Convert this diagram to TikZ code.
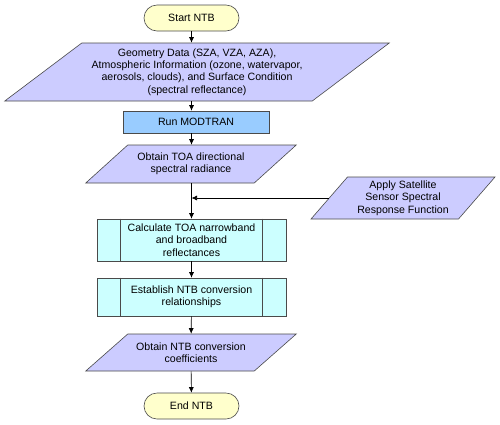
\documentclass[tikz,border=0pt]{standalone}
\usepackage{fontspec}
\setmainfont{Liberation Sans}
\usepackage{tikz}
\usetikzlibrary{arrows.meta, calc}
\definecolor{termc}{HTML}{FFFFCC}
\definecolor{ioc}{HTML}{CCCCFF}
\definecolor{runc}{HTML}{99CCFF}
\definecolor{procc}{HTML}{CCFFFF}
\definecolor{edgec}{HTML}{4A4A4A}
% #1 name, #2 centre, #3 edge length, #4 height, #5 slant, #6 text
\newcommand{\iobox}[6]{%
  \filldraw[fill=ioc, draw=edgec, line width=0.6pt]
    ($#2+(-#3/2+#5/2,-#4/2)$) -- ($#2+(#3/2+#5/2,-#4/2)$)
    -- ($#2+(#3/2-#5/2,#4/2)$) -- ($#2+(-#3/2-#5/2,#4/2)$) -- cycle;
  \node[minimum width=#3, minimum height=#4, inner sep=0pt,
        align=center] (#1) at #2 {#6};
}
% #1 name, #2 centre, #3 width, #4 height, #5 text
\newcommand{\procbox}[5]{%
  \node[draw=edgec, fill=procc, line width=0.6pt, minimum width=#3,
        minimum height=#4, inner sep=0pt, align=center] (#1) at #2 {#5};
  \draw[edgec, line width=0.6pt]
    ($(#1.north west)+(24,0)$) -- ($(#1.south west)+(24,0)$)
    ($(#1.north east)+(-24,0)$) -- ($(#1.south east)+(-24,0)$);
}

\begin{document}
\begin{tikzpicture}[x=1pt, y=-1pt, >={Latex[length=5.5pt,width=5pt]},
          line width=0.6pt, font=\fontsize{10.6}{12.3}\selectfont,
          term/.style={draw=edgec, fill=termc, rounded corners=13pt,
                       minimum width=95, minimum height=26, inner sep=0pt}]
        \useasboundingbox (0,0) rectangle (500,424);
        \node[term] (start) at (191.5,18) {Start NTB};
        \iobox{geo}{(197,72)}{307.5}{58}{77}{Geometry Data (SZA, VZA, AZA),\\
          Atmospheric Information (ozone, watervapor,\\
          aerosols, clouds), and Surface Condition\\ (spectral reflectance)}
        \node[draw=edgec, fill=runc, minimum width=146, minimum height=22,
              inner sep=0pt] (run) at (196,122) {Run MODTRAN};
        \iobox{toa}{(191,164)}{168.5}{38}{42}{Obtain TOA directional\\
          spectral radiance}
        \iobox{apply}{(403,198)}{147.5}{42}{36.5}{Apply Satellite\\
          Sensor Spectral\\ Response Function}
        \procbox{calc}{(191.5,240)}{189}{42}{Calculate TOA narrowband\\
          and broadband\\ reflectances}
        \procbox{estab}{(191.5,297)}{189}{38}{Establish NTB conversion\\
          relationships}
        \iobox{ntb}{(191,352.5)}{168.5}{37}{42}{Obtain NTB conversion\\
          coefficients}
        \node[term] (end) at (191.5,406) {End NTB};
        \coordinate (join) at (191.5,198);
        \draw[->] (start.south) -- (start.south |- geo.north);
        \draw[->] (start.south |- geo.south) -- (start.south |- run.north);
        \draw[->] (start.south |- run.south) -- (toa.north -| start.south);
        \draw[->] (toa.south -| start.south) -- (calc.north);
        \draw[->] (apply.west) -- (join);
        \draw[->] (calc) -- (estab);
        \draw[->] (estab) -- (ntb);
        \draw[->] (ntb) -- (end);
      \end{tikzpicture}
\end{document}
